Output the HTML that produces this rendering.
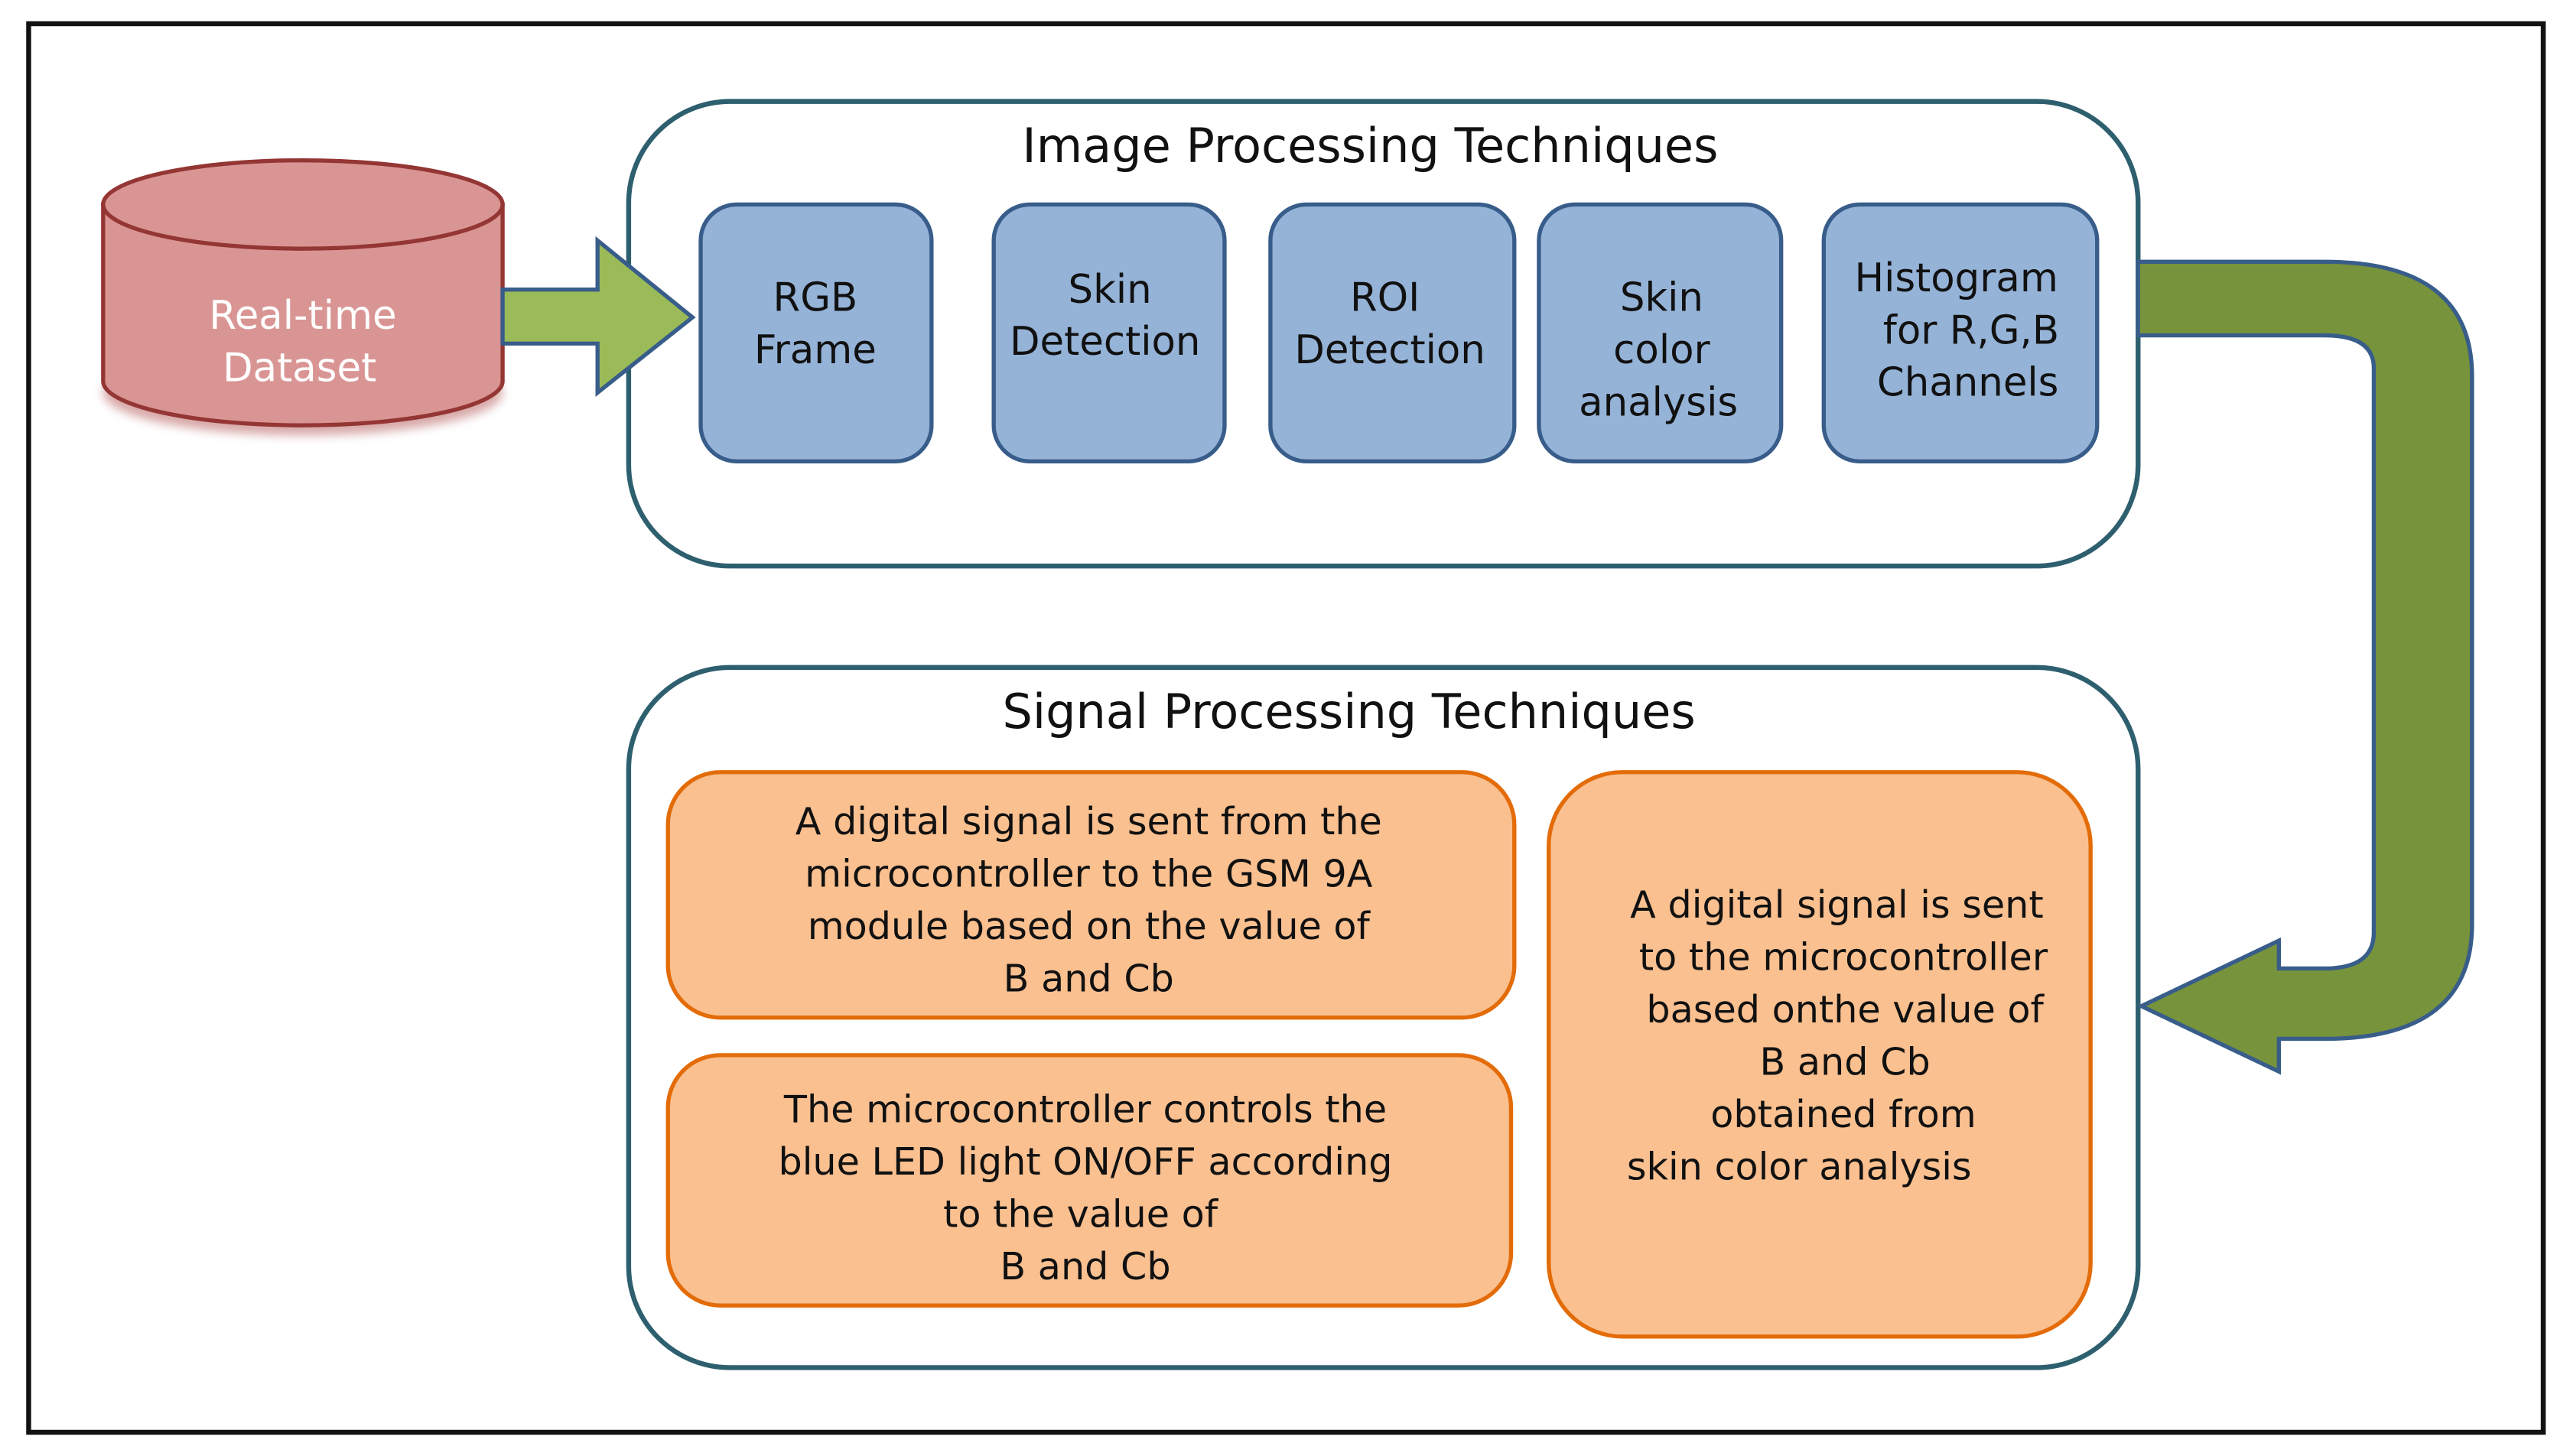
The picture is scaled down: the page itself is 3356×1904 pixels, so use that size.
<!DOCTYPE html>
<html><head><meta charset="utf-8"><style>
html,body{margin:0;padding:0;background:#fff;}
svg{display:block;}
text{font-family:"DejaVu Sans","Liberation Sans",sans-serif;fill:#111;}
</style></head><body>
<svg width="3356" height="1904" viewBox="0 0 1568 890" preserveAspectRatio="none" xmlns="http://www.w3.org/2000/svg">
<defs>
<filter id="sh" x="-20%" y="-20%" width="140%" height="150%"><feGaussianBlur stdDeviation="3"/></filter>
</defs>
<rect x="0" y="0" width="1568" height="890" fill="#fff"/>
<rect x="17.5" y="14.5" width="1536" height="861" fill="none" stroke="#111" stroke-width="3"/>

<!-- cylinder -->
<ellipse cx="185" cy="240" rx="122" ry="26" fill="#b05050" opacity="0.5" filter="url(#sh)"/>
<path d="M63 125 L63 233 A122 27 0 0 0 307 233 L307 125 Z" fill="#d99594" stroke="#943634" stroke-width="2.5"/>
<ellipse cx="185" cy="125" rx="122" ry="27" fill="#d99594" stroke="#943634" stroke-width="2.5"/>
<text x="185" y="201" font-size="24" text-anchor="middle" style="fill:#fff">Real-time</text>
<text x="183" y="233" font-size="24" text-anchor="middle" style="fill:#fff">Dataset</text>

<!-- containers -->
<rect x="384" y="62" width="922" height="284" rx="62" fill="#fff" stroke="#2e5f6e" stroke-width="3"/>
<rect x="384" y="408" width="922" height="428" rx="62" fill="#fff" stroke="#2e5f6e" stroke-width="3"/>
<text x="837" y="99" font-size="29" text-anchor="middle">Image Processing Techniques</text>
<text x="824" y="445" font-size="29" text-anchor="middle">Signal Processing Techniques</text>

<!-- green arrow -->
<path d="M307 177 L365 177 L365 147 L423 194 L365 240 L365 210 L307 210 Z" fill="#9bbb59" stroke="#385d8a" stroke-width="2.5"/>

<!-- blue boxes -->
<g fill="#95b3d7" stroke="#385d8a" stroke-width="2.5">
<rect x="428" y="125" width="141" height="157" rx="22"/>
<rect x="607" y="125" width="141" height="157" rx="22"/>
<rect x="776" y="125" width="149" height="157" rx="22"/>
<rect x="940" y="125" width="148" height="157" rx="22"/>
<rect x="1114" y="125" width="167" height="157" rx="22"/>
</g>
<g font-size="24" text-anchor="middle">
<text x="498" y="190">RGB</text><text x="498" y="222">Frame</text>
<text x="678" y="185">Skin</text><text x="675" y="217">Detection</text>
<text x="846" y="190">ROI</text><text x="849" y="222">Detection</text>
<text x="1015" y="190">Skin</text><text x="1015" y="222">color</text><text x="1013" y="254">analysis</text>
<text x="1195" y="178">Histogram</text><text x="1204" y="210">for R,G,B</text><text x="1202" y="242">Channels</text>
</g>

<!-- big U arrow -->
<path d="M1306 160 L1420 160 Q1510 160 1510 230 L1510 565 Q1510 635 1420 635 L1392 635 L1392 655 L1308 615 L1392 575 L1392 592 L1420 592 Q1450 592 1450 570 L1450 225 Q1450 205 1420 205 L1306 205 Z" fill="#77933c" stroke="#385d8a" stroke-width="2.5"/>

<!-- orange boxes -->
<g fill="#fac090" stroke="#e36c09" stroke-width="2.5">
<rect x="408" y="472" width="517" height="150" rx="32"/>
<rect x="408" y="645" width="515" height="153" rx="32"/>
<rect x="946" y="472" width="331" height="345" rx="45"/>
</g>
<g font-size="23" text-anchor="middle">
<text x="665" y="510">A digital signal is sent from the</text>
<text x="665" y="542">microcontroller to the GSM 9A</text>
<text x="665" y="574">module based on the value  of</text>
<text x="665" y="606">B and Cb</text>
<text x="663" y="686">The microcontroller controls the</text>
<text x="663" y="718">blue LED light  ON/OFF according</text>
<text x="660" y="750">to the value of</text>
<text x="663" y="782">B and Cb</text>
<text x="1122" y="561">A digital signal is sent</text>
<text x="1126" y="593">to the microcontroller</text>
<text x="1127" y="625">based onthe value of</text>
<text x="1127" y="657">B and Cb</text>
<text x="1126" y="689">obtained from</text>
<text x="1099" y="721">skin color analysis</text>
</g>
</svg>
</body></html>
